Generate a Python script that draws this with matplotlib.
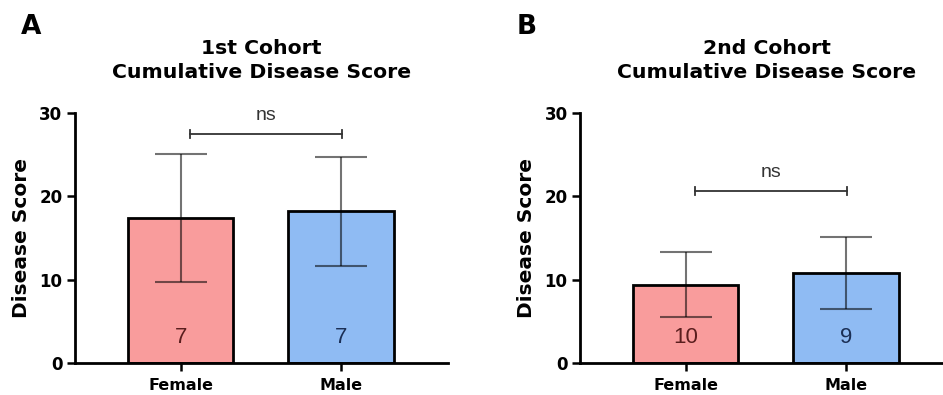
import numpy as np
import matplotlib
matplotlib.use("Agg")
import matplotlib.pyplot as plt

plt.rcParams['font.family'] = ['DejaVu Sans']

# data
groups = ["Female", "Male"]
cohort1_mean = [17.4, 18.2]
cohort1_sd = [7.7, 6.5]
cohort1_n = [7, 7]
cohort2_mean = [9.4, 10.8]
cohort2_sd = [3.9, 4.3]
cohort2_n = [10, 9]
bracket_y = [27.5, 20.6]
ns_y = [29.7, 22.9]

bar_colors = ["#F99C9C", "#8FBBF3"]
n_colors = ["#5a1e1e", "#1b2f55"]

fig = plt.figure(figsize=(9.43, 3.95), dpi=100)
W, H = 943, 395

def px_axes(x0, y0, w, h):
    return fig.add_axes([x0 / W, (H - y0 - h) / H, w / W, h / H])

axA = px_axes(75, 113, 373, 250)
axB = px_axes(580, 113, 373, 250)

panels = [
    (axA, "1st Cohort", cohort1_mean, cohort1_sd, cohort1_n, 0),
    (axB, "2nd Cohort", cohort2_mean, cohort2_sd, cohort2_n, 1),
]

for ax, cohort, means, sds, ns, k in panels:
    x = np.arange(len(groups))
    ax.bar(x, means, width=0.66, color=bar_colors, edgecolor="black",
           linewidth=2.0, zorder=2)
    ax.errorbar(x, means, yerr=sds, fmt="none", ecolor="black", alpha=0.55,
                elinewidth=1.5, capsize=19, capthick=1.5, zorder=3)
    for xi, n, c in zip(x, ns, n_colors):
        ax.text(xi, 3.1, str(n), ha="center", va="center", fontsize=16,
                color=c, family="Liberation Sans", zorder=4)
    # significance bracket
    x_l, x_r = 0.06, 1.01
    ax.plot([x_l, x_r], [bracket_y[k], bracket_y[k]], color="#333333", lw=1.3)
    ax.plot([x_l, x_l], [bracket_y[k] - 0.5, bracket_y[k] + 0.5], color="#333333", lw=1.3)
    ax.plot([x_r, x_r], [bracket_y[k] - 0.5, bracket_y[k] + 0.5], color="#333333", lw=1.3)
    ax.text((x_l + x_r) / 2, ns_y[k], "ns", ha="center", va="center",
            fontsize=14, color="#333333", family="Liberation Sans")

    ax.set_xlim(-0.66, 1.67)
    ax.set_ylim(0, 30)
    ax.set_yticks([0, 10, 20, 30])
    ax.set_xticks(x)
    ax.set_xticklabels(groups, fontweight="bold", fontsize=11.5)
    for lab in ax.get_yticklabels():
        lab.set_fontweight("bold")
        lab.set_fontsize(12)
    ax.tick_params(axis="y", direction="out", length=6, width=1.8, pad=3)
    ax.tick_params(axis="x", direction="out", length=6, width=1.8, pad=5)
    ax.spines["top"].set_visible(False)
    ax.spines["right"].set_visible(False)
    ax.spines["left"].set_linewidth(2.0)
    ax.spines["bottom"].set_linewidth(2.0)
    ax.set_ylabel("Disease Score", fontsize=14.5, fontweight="bold", labelpad=6)
    ax.set_title(cohort + "\nCumulative Disease Score", fontsize=14.7,
                 fontweight="bold", pad=25, linespacing=1.35)

fig.text(31 / W, 1 - 27 / H, "A", fontsize=19, fontweight="bold", ha="center", va="center")
fig.text(527 / W, 1 - 27 / H, "B", fontsize=19, fontweight="bold", ha="center", va="center")

fig.savefig("out.png", dpi=100, facecolor="white")
